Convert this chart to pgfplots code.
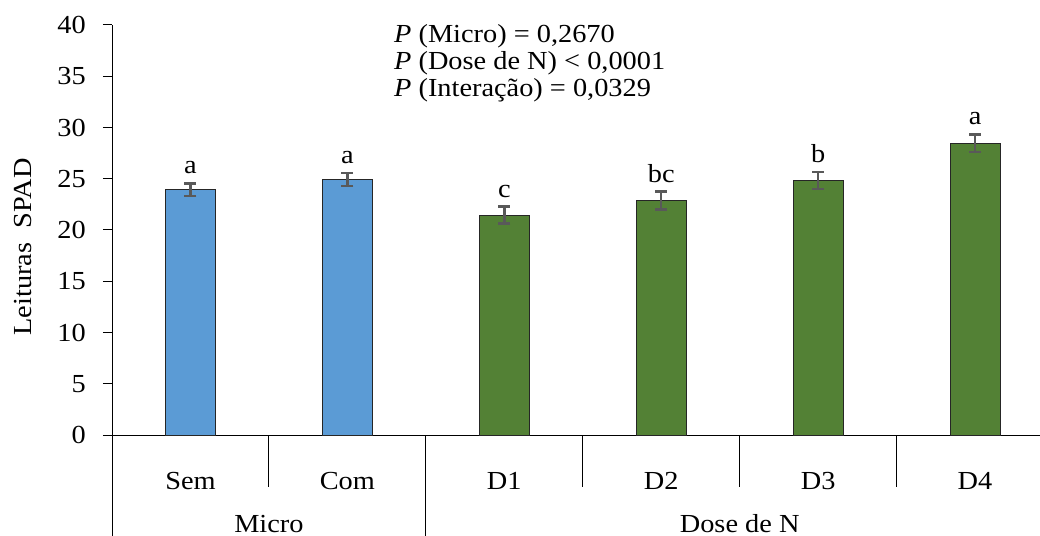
\documentclass[border=0pt]{standalone}
\usepackage{fontspec}
\setmainfont{Liberation Serif}[FakeStretch=1.09]
\usepackage{pgfplots}
\pgfplotsset{compat=1.18}
\usepackage{pgfplotstable}
\definecolor{barblue}{HTML}{5B9BD5}
\definecolor{bargreen}{HTML}{538135}
\definecolor{errgray}{HTML}{595959}

\pgfplotstableread{
x y e lab
0 23.92 0.62 a
1 24.93 0.65 a
}\micro
\pgfplotstableread{
x y e lab
2 21.45 0.82 c
3 22.88 0.87 bc
4 24.83 0.81 b
5 28.46 0.87 a
}\dose

\begin{document}
\fontsize{26bp}{29bp}\selectfont
\begin{tikzpicture}
\useasboundingbox (0,0) rectangle (1040bp,536bp);
\begin{axis}[
  at={(112bp,101bp)}, anchor=south west,
  scale only axis, width=928bp, height=410bp,
  xmin=-0.5, xmax=5.414, ymin=0, ymax=40,
  axis lines*=left,
  axis line style={line width=1bp, black},
  clip=false,
  ytick={0,5,...,40},
  y tick style={line width=1bp, black},
  tick align=outside,
  major tick length=9bp,
  /pgf/number format/assume math mode=true,
  yticklabel style={anchor=east, inner sep=0pt, xshift=-17bp},
  xtick={0,1,2,3,4,5},
  xticklabels={Sem,Com,D1,D2,D3,D4},
  x tick style={draw=none},
  xticklabel style={anchor=base, inner sep=0pt, yshift=-45.5bp},
  bar width=50bp,
]
\addplot[ybar, bar shift=0pt, fill=barblue, draw=black!85, line width=1bp,
  error bars/.cd, y dir=both, y explicit,
  error bar style={line width=2.5bp, errgray},
  error mark options={rotate=90, mark size=6bp, line width=2.5bp, errgray}]
  table[x=x, y=y, y error=e] {\micro};
\addplot[ybar, bar shift=0pt, fill=bargreen, draw=black!85, line width=1bp,
  error bars/.cd, y dir=both, y explicit,
  error bar style={line width=2.5bp, errgray},
  error mark options={rotate=90, mark size=6bp, line width=2.5bp, errgray}]
  table[x=x, y=y, y error=e] {\dose};
\addplot[draw=none, mark=none, nodes near coords, point meta=explicit symbolic,
  nodes near coords style={anchor=base, inner sep=0pt, yshift=9.5bp, black}]
  table[x=x, y expr=\thisrow{y}+\thisrow{e}, meta=lab] {\micro};
\addplot[draw=none, mark=none, nodes near coords, point meta=explicit symbolic,
  nodes near coords style={anchor=base, inner sep=0pt, yshift=9.5bp, black}]
  table[x=x, y expr=\thisrow{y}+\thisrow{e}, meta=lab] {\dose};
% category dividers
\draw[line width=1bp] (axis cs:0.5,0) -- ([yshift=-52bp]axis cs:0.5,0);
\draw[line width=1bp] (axis cs:2.5,0) -- ([yshift=-52bp]axis cs:2.5,0);
\draw[line width=1bp] (axis cs:3.5,0) -- ([yshift=-52bp]axis cs:3.5,0);
\draw[line width=1bp] (axis cs:4.5,0) -- ([yshift=-52bp]axis cs:4.5,0);
% group dividers
\draw[line width=1bp] (axis cs:-0.5,0) -- ([yshift=-110bp]axis cs:-0.5,0);
\draw[line width=1bp] (axis cs:1.5,0) -- ([yshift=-110bp]axis cs:1.5,0);
\node[anchor=base, inner sep=0pt] at ([yshift=-97bp]axis cs:0.5,0) {Micro};
\node[anchor=base, inner sep=0pt] at ([yshift=-97bp]axis cs:3.5,0) {Dose de N};
\end{axis}
\node[rotate=90, inner sep=0pt] at (23bp,289bp) {Leituras\ \ SPAD};
\node[anchor=base west, inner sep=0pt] at (394bp,493bp) {\textit{P} (Micro) = 0,2670};
\node[anchor=base west, inner sep=0pt] at (394bp,466bp) {\textit{P} (Dose de N) < 0,0001};
\node[anchor=base west, inner sep=0pt] at (394bp,439bp) {\textit{P} (Interação) = 0,0329};
\end{tikzpicture}
\end{document}
